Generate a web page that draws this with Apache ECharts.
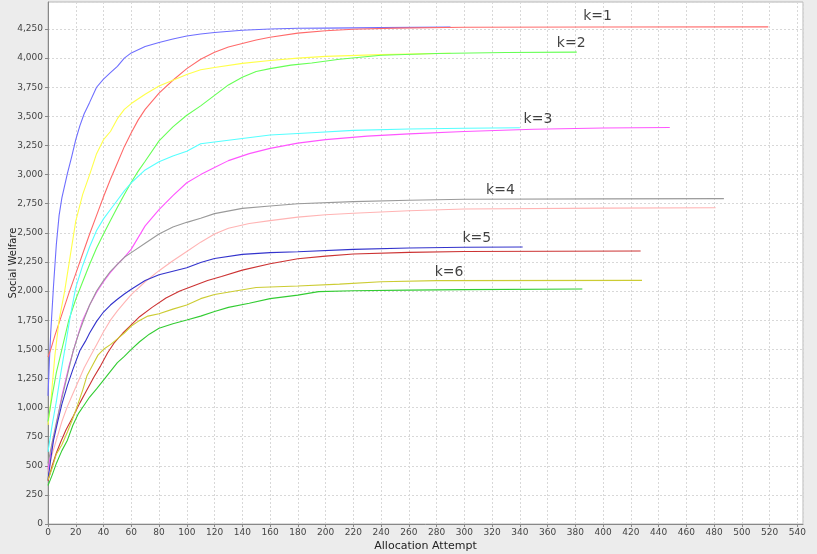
<!DOCTYPE html>
<html>
<head>
<meta charset="utf-8">
<script src="https://cdn.jsdelivr.net/npm/echarts@6/dist/echarts.min.js"></script>
<style>
html,body{margin:0;padding:0;background:#ececec;}
#c{width:817px;height:554px;}
</style>
</head>
<body>
<div id="c"></div>
<script>
// k=1
const k1Blue = [[0,1100],[1,1400],[2,1650],[4,2050],[6,2400],[8,2650],[10,2800],[14,3010],[17,3150],[20,3300],[23,3420],[26,3520],[30,3620],[35,3750],[40,3820],[45,3875],[50,3930],[55,4000],[60,4045],[70,4100],[80,4135],[90,4165],[100,4190],[110,4207],[120,4220],[140,4240],[160,4250],[180,4256],[200,4258],[240,4262],[290,4266]];
const k1Red = [[0,1434],[2,1500],[5,1620],[10,1800],[15,1980],[20,2150],[25,2320],[30,2490],[35,2650],[40,2810],[45,2960],[50,3100],[55,3240],[60,3360],[65,3470],[70,3560],[80,3700],[90,3810],[100,3910],[110,3990],[120,4050],[130,4095],[140,4125],[150,4155],[160,4180],[180,4215],[200,4235],[220,4248],[250,4258],[300,4265],[400,4267],[519,4268]];
// k=2
const k2Yellow = [[0,850],[2,1050],[5,1450],[8,1750],[12,2000],[16,2300],[20,2600],[25,2830],[30,3000],[35,3180],[40,3300],[45,3370],[50,3480],[55,3560],[60,3610],[70,3690],[80,3760],[90,3810],[100,3860],[110,3900],[120,3920],[140,3955],[160,3980],[180,4000],[200,4015],[240,4030],[290,4042]];
const k2Green = [[0,880],[3,1100],[6,1300],[10,1500],[15,1750],[20,1930],[25,2080],[30,2230],[35,2370],[40,2490],[45,2605],[50,2720],[55,2830],[60,2935],[65,3030],[70,3115],[80,3290],[90,3410],[100,3510],[110,3590],[120,3680],[130,3770],[140,3835],[150,3885],[160,3910],[175,3940],[190,3958],[210,3990],[240,4025],[280,4040],[330,4048],[381,4052]];
// k=3
const k3Cyan = [[0,620],[3,850],[6,1050],[9,1280],[12,1490],[16,1780],[20,2030],[25,2220],[30,2380],[35,2520],[40,2620],[45,2700],[50,2780],[55,2860],[60,2930],[70,3040],[80,3110],[90,3160],[100,3200],[110,3265],[120,3280],[140,3310],[160,3340],[190,3360],[220,3380],[260,3392],[300,3398],[340,3402]];
const k3Magenta = [[0,470],[3,680],[6,850],[10,1100],[15,1350],[20,1560],[25,1750],[30,1880],[35,1990],[40,2080],[45,2160],[50,2230],[55,2290],[60,2360],[70,2560],[80,2700],[90,2820],[100,2930],[110,3000],[120,3060],[130,3120],[145,3180],[160,3225],[180,3270],[200,3300],[230,3330],[260,3350],[300,3370],[350,3390],[400,3400],[448,3405]];
// k=4
const k4Gray = [[0,520],[3,700],[6,870],[9,1030],[12,1180],[15,1330],[18,1480],[22,1630],[26,1760],[30,1880],[35,2000],[40,2090],[45,2170],[50,2230],[55,2290],[60,2330],[70,2410],[80,2490],[90,2550],[100,2590],[110,2625],[120,2665],[140,2710],[160,2730],[180,2750],[220,2768],[260,2780],[300,2788],[400,2792],[487,2794]];
const k4Pink = [[0,440],[3,600],[6,720],[10,880],[14,1010],[18,1120],[22,1230],[26,1340],[30,1430],[35,1540],[40,1650],[45,1750],[50,1830],[55,1900],[60,1970],[70,2080],[80,2175],[90,2260],[100,2340],[110,2420],[120,2490],[130,2540],[145,2580],[160,2605],[180,2635],[200,2655],[220,2668],[260,2690],[300,2705],[400,2712],[481,2716]];
// k=5
const k5Blue = [[0,380],[2,560],[4,720],[7,880],[10,1030],[14,1190],[18,1330],[23,1490],[27,1570],[30,1640],[35,1740],[40,1820],[45,1880],[50,1930],[55,1975],[60,2015],[70,2090],[80,2140],[90,2170],[100,2200],[110,2245],[120,2280],[140,2315],[160,2330],[180,2338],[220,2358],[260,2370],[300,2376],[342,2378]];
const k5Red = [[0,370],[3,500],[6,610],[9,700],[13,810],[18,920],[23,1040],[28,1150],[33,1260],[38,1360],[43,1470],[48,1560],[54,1640],[60,1710],[66,1780],[75,1860],[85,1940],[95,2000],[105,2045],[115,2090],[125,2125],[140,2180],[160,2235],[180,2278],[200,2300],[220,2318],[260,2332],[300,2340],[427,2344]];
// k=6
const k6Olive = [[0,380],[3,480],[6,600],[10,680],[14,790],[18,910],[21,1010],[25,1150],[28,1270],[32,1360],[36,1450],[40,1500],[45,1540],[50,1590],[55,1640],[60,1700],[65,1740],[72,1785],[80,1805],[90,1845],[100,1880],[110,1935],[120,1970],[135,2000],[150,2030],[180,2043],[210,2060],[240,2080],[280,2090],[428,2092]];
const k6Green = [[0,330],[3,420],[6,520],[10,630],[14,720],[18,850],[22,950],[26,1020],[30,1090],[35,1160],[40,1235],[45,1310],[50,1385],[55,1440],[60,1500],[66,1565],[73,1630],[80,1680],[90,1720],[100,1752],[110,1785],[120,1825],[130,1860],[145,1895],[160,1935],[180,1965],[195,1995],[220,2003],[260,2008],[300,2012],[385,2018]];

// annotations
const annoText = ['k=1','k=2','k=3','k=4','k=5','k=6'];
const annoX = [396, 377, 353, 326, 309, 289];
const annoY = [4362, 4130, 3477, 2868, 2456, 2164];

const seriesDefs = [
  [k1Blue, '#6e6eff'], [k1Red, '#ff6a6a'],
  [k2Yellow, '#ffff4a'], [k2Green, '#66ff55'],
  [k3Cyan, '#55ffff'], [k3Magenta, '#ff55ff'],
  [k4Gray, '#9a9a9a'], [k4Pink, '#ffb4b4'],
  [k5Blue, '#3333cc'], [k5Red, '#cc3333'],
  [k6Olive, '#cccc33'], [k6Green, '#33cc33']
];

const series = seriesDefs.map(function(d){
  return {type:'line', data:d[0], showSymbol:false, symbol:'none', silent:true,
    lineStyle:{color:d[1], width:1.1}, itemStyle:{color:d[1]}};
});
series.push({
  type:'scatter', symbolSize:0, silent:true,
  data: annoX.map(function(x,i){ return {value:[x, annoY[i]], name:annoText[i]}; }),
  label:{show:true, position:'inside', formatter:function(p){return p.name;},
    color:'#111', fontSize:14, fontFamily:'DejaVu Sans'}
});

const chart = echarts.init(document.getElementById('c'), null, {renderer:'canvas'});
chart.setOption({
  animation:false,
  backgroundColor:'#ececec',
  grid:{left:48, right:14, top:2, bottom:30, show:true, backgroundColor:'#ffffff', borderColor:'#b8b8b8', borderWidth:1, containLabel:false, outerBoundsMode:'none'},
  xAxis:{type:'value', min:0, max:544, interval:20,
    name:'Allocation Attempt', nameLocation:'middle', nameGap:17, nameMoveOverlap:false,
    nameTextStyle:{color:'#222', fontSize:11, fontFamily:'DejaVu Sans'},
    axisLine:{show:true, lineStyle:{color:'#888'}},
    axisTick:{show:true, length:3, lineStyle:{color:'#888'}},
    axisLabel:{color:'#444', fontSize:9, fontFamily:'DejaVu Sans', margin:4, showMaxLabel:false},
    splitLine:{show:true, lineStyle:{color:'#d8d8d8', type:[2,2], width:1}}
  },
  yAxis:{type:'value', min:0, max:4482, interval:250,
    name:'Social Welfare', nameLocation:'middle', nameGap:30, nameMoveOverlap:false,
    nameTextStyle:{color:'#222', fontSize:10, fontFamily:'DejaVu Sans'},
    axisLine:{show:true, lineStyle:{color:'#888'}},
    axisTick:{show:true, length:3, lineStyle:{color:'#888'}},
    axisLabel:{color:'#444', fontSize:9, fontFamily:'DejaVu Sans', margin:5, showMaxLabel:false,
      formatter:function(v){return v.toLocaleString('en-US');}},
    splitLine:{show:true, lineStyle:{color:'#d8d8d8', type:[2,2], width:1}}
  },
  series:series
});
</script>
</body>
</html>
